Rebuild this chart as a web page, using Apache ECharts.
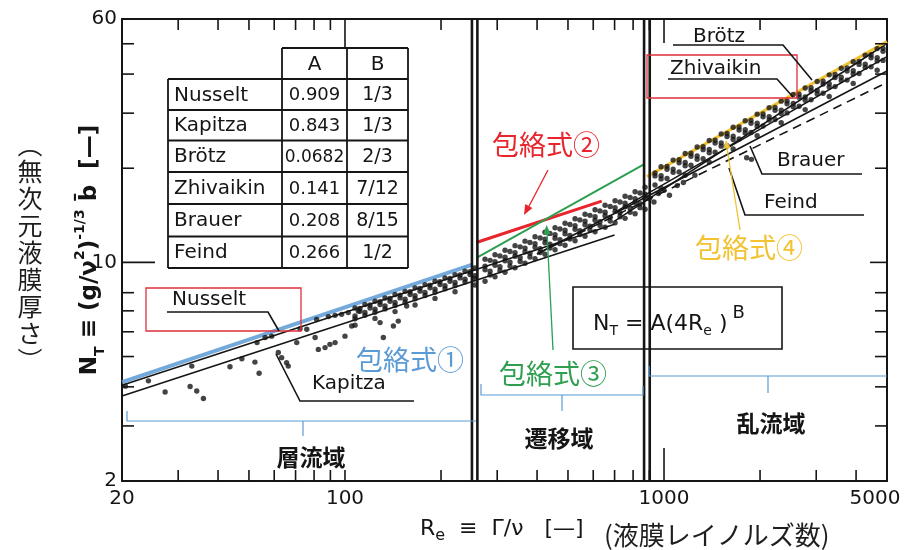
<!DOCTYPE html>
<html>
<head>
<meta charset="utf-8">
<script src="https://cdn.jsdelivr.net/npm/echarts@6/dist/echarts.min.js"></script>
<style>
html,body{margin:0;padding:0;background:#fff}
#chart{width:906px;height:550px}
</style>
</head>
<body>
<div id="chart"></div>
<script>
// ---- axis ticks and labels ----
const xLabelValues = [20, 100, 1000, 5000];
const xBottomTicks = [30, 40, 50, 60, 70, 80, 90, 100, 200, 300, 400, 500, 600, 700, 800, 900, 2000, 3000, 4000];
const xBottomLongTicks = [1000];
const xTopTicks = [30, 40, 50, 60, 70, 80, 90, 200, 300, 400, 500, 600, 700, 800, 900, 2000, 3000, 4000];
const xTopLongTicks = [100, 1000];
const yLabelValues = [2, 10, 60];
const yTicks = [3, 4, 5, 6, 7, 8, 20, 30, 40, 50];
const yLongTicks = [10];

// ---- region boundaries (Re) ----
const regimeBounds = [250, 260, 866, 902];

// ---- correlations N_T = A(4Re)^B, end points [Re, N_T] ----
const nusseltLine = [[20, 4.05], [700, 13.25]];
const kapitzaLine = [[20, 3.74], [700, 12.23]];
const brotzLine = [[700, 13.55], [5000, 50.2]];
const zhivaikinLine = [[700, 14.45], [5000, 45.5]];
const brauerLine = [[400, 10.64], [5000, 40.9]];
const feindLine = [[400, 10.64], [5000, 37.6]];

// ---- envelope lines ----
const envelope1 = [[20, 4.14], [252, 9.85]];
const envelope2 = [[258, 11.58], [638, 15.7]];
const envelope3 = [[260, 10.37], [862, 20.55]];
const envelope4 = [[884, 18.8], [5000, 50.8]];

// ---- measured points [Re, N_T] ----
const laminarPoints = [
  [20.5, 4.02], [24.2, 4.18], [27.3, 3.85], [33.1, 4.66], [32.7, 4.01], [34.3, 3.88], [36.0, 3.67],
  [43.6, 4.64], [47.5, 4.92], [52.2, 4.80], [53.8, 4.42], [53.0, 5.54], [56.2, 5.75], [58.9, 5.81],
  [61.8, 5.15], [63.3, 4.96], [65.6, 4.78], [66.4, 4.66], [70.6, 5.54], [72.3, 6.14], [75.9, 6.11],
  [80.6, 5.75], [82.5, 5.27], [86.6, 5.34], [89.7, 5.47], [93.1, 5.54], [100, 5.81], [81.5, 6.57],
  [88.7, 6.71], [93.1, 6.77], [97.6, 6.82], [102.4, 6.91], [105, 6.26], [110.1, 6.99], [131.9, 5.75],
  [128.8, 6.42], [141.8, 6.26], [146.9, 6.49], [156.1, 7.25]
];
const laminarBandPoints = [
  [107.5, 7.15], [115.5, 7.33], [124.2, 7.51], [133.5, 7.69], [143.5, 7.89], [154.3, 8.08], [165.8, 8.29],
  [178.2, 8.49], [191.5, 8.70], [205.8, 8.92], [221.3, 9.14], [237.8, 9.37], [255.6, 9.60],
  [111.4, 7.13], [119.8, 7.31], [128.8, 7.48], [138.4, 7.67], [148.8, 7.86], [160.0, 8.06], [171.9, 8.26],
  [184.7, 8.46], [198.5, 8.67], [213.4, 8.89], [229.4, 9.11], [246.6, 9.34],
  [111.4, 6.98], [119.8, 7.15], [128.8, 7.33], [138.4, 7.51], [148.8, 7.70], [160.0, 7.89], [171.9, 8.09],
  [184.7, 8.29], [198.5, 8.49], [213.4, 8.70], [229.4, 8.92], [246.6, 9.15],
  [107.5, 6.74], [115.5, 6.92], [124.2, 7.08], [133.5, 7.26], [143.5, 7.44], [154.3, 7.63], [165.8, 7.82],
  [178.2, 8.01], [191.5, 8.21], [205.8, 8.42], [221.3, 8.62], [237.8, 8.84], [255.6, 9.06],
  [107.5, 6.60], [115.5, 6.77], [124.2, 6.93], [133.5, 7.10], [143.5, 7.28], [154.3, 7.46], [165.8, 7.65],
  [178.2, 7.84], [191.5, 8.03], [205.8, 8.24], [221.3, 8.43], [237.8, 8.65], [255.6, 8.87],
  [107.5, 6.30], [124.2, 6.62], [143.5, 6.96], [165.8, 7.31], [191.5, 7.67], [221.3, 8.06], [255.6, 8.47]
];
const transitionPoints = [
  [274.8, 10.24], [295.3, 10.58], [317.4, 10.94], [341.2, 11.31], [366.7, 11.69], [394.2, 12.08],
  [423.6, 12.49], [455.4, 12.91], [489.5, 13.34], [526.2, 13.79], [565.5, 14.26], [607.9, 14.74],
  [653.5, 15.23], [702.4, 15.74], [755.0, 16.27], [811.6, 16.82], [872.3, 17.39],
  [285, 10.15], [306, 10.49], [329, 10.84], [354, 11.21], [380, 11.58], [409, 11.97], [439, 12.38],
  [472, 12.79], [507, 13.22], [545, 13.67], [586, 14.14], [630, 14.61], [678, 15.09], [728, 15.60],
  [783, 16.13], [841, 16.67],
  [274.8, 9.73], [295.3, 10.05], [317.4, 10.39], [341.2, 10.74], [366.7, 11.11], [394.2, 11.48],
  [423.6, 11.87], [455.4, 12.26], [489.5, 12.67], [526.2, 13.10], [565.5, 13.55], [607.9, 14.00],
  [653.5, 14.47], [702.4, 14.95], [755.0, 15.46], [811.6, 15.98], [872.3, 16.52],
  [274.8, 9.47], [295.3, 9.79], [317.4, 10.12], [341.2, 10.46], [366.7, 10.81], [394.2, 11.17],
  [423.6, 11.55], [455.4, 11.94], [489.5, 12.34], [526.2, 12.76], [565.5, 13.19], [607.9, 13.63],
  [653.5, 14.09], [702.4, 14.56], [755.0, 15.05], [811.6, 15.56], [872.3, 16.09],
  [285, 9.37], [306, 9.68], [329, 10.01], [354, 10.35], [380, 10.69], [409, 11.05], [439, 11.43],
  [472, 11.81], [507, 12.20], [545, 12.62], [586, 13.05], [630, 13.48], [678, 13.93], [728, 14.40],
  [783, 14.89], [841, 15.39],
  [285, 9.11], [306, 9.42], [329, 9.73], [354, 10.06], [380, 10.40], [409, 10.75], [439, 11.11],
  [472, 11.48], [507, 11.87], [545, 12.27], [586, 12.69], [630, 13.11], [678, 13.55], [728, 14.00],
  [783, 14.47], [841, 14.96],
  [274.8, 8.70], [295.3, 8.99], [317.4, 9.30], [341.2, 9.61], [366.7, 9.94], [394.2, 10.27],
  [423.6, 10.62], [455.4, 10.97], [489.5, 11.34], [526.2, 11.72], [565.5, 12.12], [607.9, 12.53],
  [653.5, 12.95], [702.4, 13.38], [755.0, 13.83], [811.6, 14.30], [872.3, 14.78]
];
const turbulentPoints = [
  [979, 20.23], [1068, 21.23], [1165, 22.28], [1270, 23.38], [1386, 24.54], [1511, 25.75], [1647, 27.03],
  [1797, 28.38], [1959, 29.78], [2136, 31.23], [2330, 32.77], [2541, 34.41], [2770, 36.11], [3021, 37.88],
  [3295, 39.77], [3593, 41.73], [3918, 43.80], [4272, 45.98], [4658, 48.25],
  [937, 19.32], [1022, 20.28], [1115, 21.28], [1215, 22.34], [1326, 23.44], [1446, 24.59], [1576, 25.82],
  [1719, 27.10], [1874, 28.45], [2044, 29.84], [2229, 31.30], [2430, 32.85], [2651, 34.50], [2890, 36.18],
  [3152, 37.98], [3437, 39.87], [3748, 41.83], [4087, 43.91], [4457, 46.10], [4859, 48.34],
  [937, 18.90], [1022, 19.84], [1115, 20.81], [1215, 21.85], [1326, 22.93], [1446, 24.06], [1576, 25.25],
  [1719, 26.51], [1874, 27.83], [2044, 29.19], [2229, 30.62], [2430, 32.14], [2651, 33.75], [2890, 35.39],
  [3152, 37.15], [3437, 39.00], [3748, 40.92], [4087, 42.95], [4457, 45.09], [4859, 47.29],
  [979, 18.94], [1068, 19.87], [1165, 20.86], [1270, 21.89], [1386, 22.97], [1511, 24.10], [1647, 25.30],
  [1797, 26.56], [1959, 27.87], [2136, 29.24], [2330, 30.68], [2541, 32.21], [2770, 33.80], [3021, 35.46],
  [3295, 37.23], [3593, 39.07], [3918, 41.00], [4272, 43.04], [4658, 45.16],
  [979, 18.49], [1068, 19.40], [1165, 20.36], [1270, 21.37], [1386, 22.42], [1511, 23.53], [1647, 24.70],
  [1797, 25.93], [1959, 27.21], [2136, 28.54], [2330, 29.94], [2541, 31.44], [2770, 32.99], [3021, 34.61],
  [3295, 36.34], [3593, 38.13], [3918, 40.02], [4272, 42.01], [4658, 44.08],
  [937, 17.68], [1022, 18.56], [1115, 19.47], [1215, 20.44], [1326, 21.45], [1446, 22.50], [1576, 23.62],
  [1719, 24.79], [1874, 26.03], [2044, 27.30], [2229, 28.64], [2430, 30.06], [2651, 31.57], [2890, 33.10],
  [3152, 34.75], [3437, 36.48], [3748, 38.27], [4087, 40.18], [4457, 42.18], [4859, 44.23],
  [979, 17.25], [1165, 19.00], [1386, 20.92], [1647, 23.05], [1959, 25.39], [2330, 27.95], [2770, 30.79],
  [3295, 33.92], [3918, 37.35], [4658, 41.14],
  [900, 16.0], [930, 15.6], [960, 16.6], [1000, 17.0], [1040, 16.4], [1100, 17.6], [1150, 18.0], [1250, 19.0],
  [1816, 21.6], [1880, 21.35]
];

// ---- table of coefficients ----
const tableNames = ['Nusselt', 'Kapitza', 'Brötz', 'Zhivaikin', 'Brauer', 'Feind'];
const tableA = ['0.909', '0.843', '0.0682', '0.141', '0.208', '0.266'];
const tableB = ['1/3', '1/3', '2/3', '7/12', '8/15', '1/2'];

const LATIN = '"DejaVu Sans", sans-serif';
const CJK = '"Noto Sans CJK JP", sans-serif';
const INK = '#151515';
const BLUE = '#5b9bd5';
const RED = '#e8242c';
const GREEN = '#2e9e50';
const YELLOW = '#f2c230';
const X_MIN = 20, X_MAX = 5000, Y_MIN = 2, Y_MAX = 60;

const chart = echarts.init(document.getElementById('chart'), null, { renderer: 'canvas' });

const frameLine = { show: true, onZero: false, lineStyle: { color: INK, width: 2 } };
const xAxes = [
  {
    type: 'log', min: X_MIN, max: X_MAX, logBase: 10, position: 'bottom',
    splitLine: { show: false }, axisTick: { show: false }, axisLine: frameLine,
    axisLabel: {
      show: true, customValues: xLabelValues, margin: 8, color: INK,
      fontFamily: LATIN, fontSize: 20,
      formatter: v => (v === 5000 ? '{r|5000}' : String(v)),
      rich: { r: { fontFamily: LATIN, fontSize: 20, color: INK, padding: [0, 24, 0, 0] } }
    }
  },
  {
    type: 'log', min: X_MIN, max: X_MAX, logBase: 10, position: 'top',
    splitLine: { show: false }, axisTick: { show: false }, axisLabel: { show: false }, axisLine: frameLine
  }
];
const yAxes = [
  {
    type: 'log', min: Y_MIN, max: Y_MAX, logBase: 10, position: 'left',
    splitLine: { show: false }, axisTick: { show: false }, axisLine: frameLine,
    axisLabel: { show: true, customValues: yLabelValues, margin: 5, color: INK, fontFamily: LATIN, fontSize: 20 }
  },
  {
    type: 'log', min: Y_MIN, max: Y_MAX, logBase: 10, position: 'right',
    splitLine: { show: false }, axisTick: { show: false }, axisLabel: { show: false }, axisLine: frameLine
  }
];

function lineSeries(name, data, color, width, type, z) {
  return {
    name, type: 'line', data, xAxisIndex: 0, yAxisIndex: 0,
    symbol: 'none', silent: true, animation: false, z: z || 3,
    lineStyle: { color, width, type: type || 'solid', cap: 'butt' }
  };
}

const series = [];
regimeBounds.forEach((re, i) => {
  series.push(lineSeries('bound' + i, [[re, Y_MIN], [re, Y_MAX]], INK, 2.6, 'solid', 6));
});
series.push(lineSeries('Nusselt', nusseltLine, INK, 1.6));
series.push(lineSeries('Kapitza', kapitzaLine, INK, 1.6));
series.push(lineSeries('Brötz', brotzLine, INK, 1.6));
series.push(lineSeries('Zhivaikin', zhivaikinLine, INK, 1.6));
series.push(lineSeries('Brauer', brauerLine, INK, 1.6));
series.push(lineSeries('Feind', feindLine, INK, 1.6, [9, 6]));
series.push(lineSeries('包絡式①', envelope1, 'rgba(91,155,213,0.85)', 4, 'solid', 4));
series.push(lineSeries('包絡式②', envelope2, RED, 3, 'solid', 4));
series.push(lineSeries('包絡式③', envelope3, GREEN, 2, 'solid', 4));
series.push(lineSeries('包絡式④', envelope4, YELLOW, 3, 'solid', 4));
series.push({
  name: 'data', type: 'scatter', xAxisIndex: 0, yAxisIndex: 0, silent: true, animation: false, z: 5,
  symbol: 'circle', symbolSize: 5.4, itemStyle: { color: INK },
  data: laminarPoints.concat(laminarBandPoints, transitionPoints, turbulentPoints)
});

chart.setOption({
  animation: false,
  backgroundColor: '#ffffff',
  grid: { left: 122, right: 19, top: 19, bottom: 69, containLabel: false },
  xAxis: xAxes,
  yAxis: yAxes,
  series
});

// ---- annotation helpers ----
const g = [];
function gl(x1, y1, x2, y2, color, w, z) {
  g.push({ type: 'line', silent: true, z: z || 10, shape: { x1, y1, x2, y2 }, style: { stroke: color || INK, lineWidth: w || 1.6 } });
}
function gpoly(points, color, w) {
  g.push({ type: 'polyline', silent: true, z: 10, shape: { points }, style: { stroke: color || INK, lineWidth: w || 1.6, fill: null } });
}
function gt(x, y, text, font, color, align, extra) {
  g.push(Object.assign({
    type: 'text', silent: true, z: 12, x, y,
    style: { text, font, fill: color || INK, align: align || 'left', verticalAlign: 'middle' }
  }, extra || {}));
}
function grect(x, y, w, h, color, lw) {
  g.push({ type: 'rect', silent: true, z: 9, shape: { x, y, width: w, height: h }, style: { fill: null, stroke: color, lineWidth: lw || 1.3 } });
}
function arrowHead(x, y, angle, color, size) {
  const s = size || 10;
  const a1 = angle + Math.PI - 0.38, a2 = angle + Math.PI + 0.38;
  g.push({
    type: 'polygon', silent: true, z: 11,
    shape: { points: [[x, y], [x + s * Math.cos(a1), y + s * Math.sin(a1)], [x + s * Math.cos(a2), y + s * Math.sin(a2)]] },
    style: { fill: color }
  });
}

// tick marks pointing inward from the frame, positioned through the axis scales
const toPx = v => chart.convertToPixel({ gridIndex: 0 }, v);
function tick(value, side, len) {
  let p;
  if (side === 'bottom') { p = toPx([value, Y_MIN]); gl(p[0], p[1], p[0], p[1] - len, INK, 1.6, 8); }
  if (side === 'top') { p = toPx([value, Y_MAX]); gl(p[0], p[1], p[0], p[1] + len, INK, 1.6, 8); }
  if (side === 'left') { p = toPx([X_MIN, value]); gl(p[0], p[1], p[0] + len, p[1], INK, 1.6, 8); }
  if (side === 'right') { p = toPx([X_MAX, value]); gl(p[0], p[1], p[0] - len, p[1], INK, 1.6, 8); }
}
xBottomTicks.forEach(v => tick(v, 'bottom', 11));
xBottomLongTicks.forEach(v => tick(v, 'bottom', 33));
xTopTicks.forEach(v => tick(v, 'top', 11));
xTopLongTicks.forEach(v => tick(v, 'top', v === 100 ? 29 : 24));
yTicks.forEach(v => { tick(v, 'left', 12); tick(v, 'right', 12); });
yLongTicks.forEach(v => { tick(v, 'left', 33); tick(v, 'right', 17); });

// coefficient table
const cols = [168, 282, 347, 408];
const rows = [48, 79, 110, 140.5, 172, 204, 236.5, 268];
const TW = 1.8;
gl(cols[1], rows[0], cols[3], rows[0], INK, TW);
for (let i = 1; i < rows.length; i++) gl(cols[0], rows[i], cols[3], rows[i], INK, TW);
gl(cols[0], rows[1], cols[0], rows[7], INK, TW);
gl(cols[1], rows[0], cols[1], rows[7], INK, TW);
gl(cols[2], rows[0], cols[2], rows[7], INK, TW);
gl(cols[3], rows[0], cols[3], rows[7], INK, TW);
gt((cols[1] + cols[2]) / 2, (rows[0] + rows[1]) / 2 + 1, 'A', '20px ' + LATIN, INK, 'center');
gt((cols[2] + cols[3]) / 2, (rows[0] + rows[1]) / 2 + 1, 'B', '20px ' + LATIN, INK, 'center');
tableNames.forEach((n, i) => {
  const cy = (rows[i + 1] + rows[i + 2]) / 2 + 1;
  gt(cols[0] + 6, cy, n, '20px ' + LATIN, INK, 'left');
  gt((cols[1] + cols[2]) / 2, cy, tableA[i], (tableA[i].length > 5 ? '17px ' : '18px ') + LATIN, INK, 'center');
  gt((cols[2] + cols[3]) / 2, cy, tableB[i], '19px ' + LATIN, INK, 'center');
});

// correlation labels and leaders
const LF = '20px ' + LATIN;
gt(172, 300, 'Nusselt', LF);
gpoly([[167, 312], [268, 312], [279, 331]]);
gt(312, 384, 'Kapitza', LF);
gpoly([[414, 401], [300, 401], [276, 354]]);
gt(693, 37, 'Brötz', LF);
gpoly([[673, 45], [783, 45], [812, 80]]);
gt(670, 69, 'Zhivaikin', LF);
gpoly([[668, 79], [777, 79], [793, 97]]);
gt(777, 161, 'Brauer', LF);
gpoly([[862, 174], [762, 174], [750, 146]]);
gt(764, 203, 'Feind', LF);
gpoly([[864, 215], [745, 215], [729, 168]]);

// highlight boxes
grect(146, 288, 155, 43, '#e0303c', 1.3);
grect(647, 55, 150, 43, '#e0303c', 1.3);

// envelope labels and pointers
const EF = '27px ' + CJK;
gt(546, 145, '包絡式②', EF, RED, 'center');
gl(548, 170, 527, 210, RED, 1.3);
arrowHead(524, 215, Math.atan2(215 - 170, 524 - 548), RED, 11);
gt(410, 360, '包絡式①', EF, BLUE, 'center');
gt(553, 374, '包絡式③', EF, GREEN, 'center');
gl(553, 350, 547, 232, GREEN, 1.3);
arrowHead(546.5, 225, Math.atan2(225 - 350, 546.5 - 553), GREEN, 10);
gt(749, 248, '包絡式④', EF, YELLOW, 'center');
gl(740, 230, 727, 148, YELLOW, 1.3);
arrowHead(726, 140, Math.atan2(140 - 230, 726 - 740), YELLOW, 9);

// flow regime brackets
const BW = 1.2;
gpoly([[127, 411], [127, 421], [476, 421]], BLUE, BW);
gl(303, 421, 303, 436, BLUE, BW);
gpoly([[481, 384], [481, 395], [643, 395], [643, 386]], BLUE, BW);
gl(562, 395, 562, 411, BLUE, BW);
gpoly([[649, 366], [649, 376], [887, 376]], BLUE, BW);
gl(768, 376, 768, 393, BLUE, BW);
const RF = 'bold 23px ' + CJK;
gt(311, 457, '層流域', RF, INK, 'center');
gt(559, 438, '遷移域', RF, INK, 'center');
gt(771, 423, '乱流域', RF, INK, 'center');

// formula box
grect(573, 287, 209, 62, INK, 1.6);
gt(593, 324, '', null, INK, 'left', {
  style: {
    text: '{n|N}{s|T}{n| = A(4R}{s|e}{n| )}{p|B}', align: 'left', verticalAlign: 'middle',
    rich: {
      n: { fontFamily: LATIN, fontSize: 22, fill: INK, lineHeight: 40, verticalAlign: 'middle' },
      s: { fontFamily: LATIN, fontSize: 14, fill: INK, lineHeight: 14, verticalAlign: 'bottom', padding: [0, 0, 6, 0] },
      p: { fontFamily: LATIN, fontSize: 18, fill: INK, lineHeight: 18, verticalAlign: 'top', padding: [0, 0, 0, 5] }
    }
  }
});

// axis titles
gt(90, 250, '', null, INK, 'center', {
  rotation: Math.PI / 2,
  style: {
    text: '{n|N}{s|T}{n| ≡ (g/ν}{p|2}{n|)}{p|-1/3}{n| b\u0304  [—]}', align: 'center', verticalAlign: 'middle',
    rich: {
      n: { fontFamily: LATIN, fontSize: 23, fontWeight: 'bold', fill: INK, lineHeight: 34, verticalAlign: 'middle' },
      s: { fontFamily: LATIN, fontSize: 14, fontWeight: 'bold', fill: INK, lineHeight: 14, verticalAlign: 'bottom' },
      p: { fontFamily: LATIN, fontSize: 14, fontWeight: 'bold', fill: INK, lineHeight: 14, verticalAlign: 'top' }
    }
  }
});
gt(30, 252, '', null, INK, 'center', {
  style: { text: '︵\n無\n次\n元\n液\n膜\n厚\nさ\n︶', fontFamily: CJK, fontSize: 25, lineHeight: 27, fill: '#1e1e1e', align: 'center', verticalAlign: 'middle' }
});
gt(420, 529, '', null, INK, 'left', {
  style: {
    text: '{n|R}{s|e}{n|  ≡  Γ/ν   [—]}', align: 'left', verticalAlign: 'middle',
    rich: {
      n: { fontFamily: LATIN, fontSize: 22, fill: INK, lineHeight: 30, verticalAlign: 'middle' },
      s: { fontFamily: LATIN, fontSize: 16, fill: INK, lineHeight: 16, verticalAlign: 'bottom' }
    }
  }
});
gt(604, 535, '(液膜レイノルズ数)', '26px ' + CJK, '#1e1e1e', 'left');

chart.setOption({ graphic: { elements: g } });
</script>
</body>
</html>
